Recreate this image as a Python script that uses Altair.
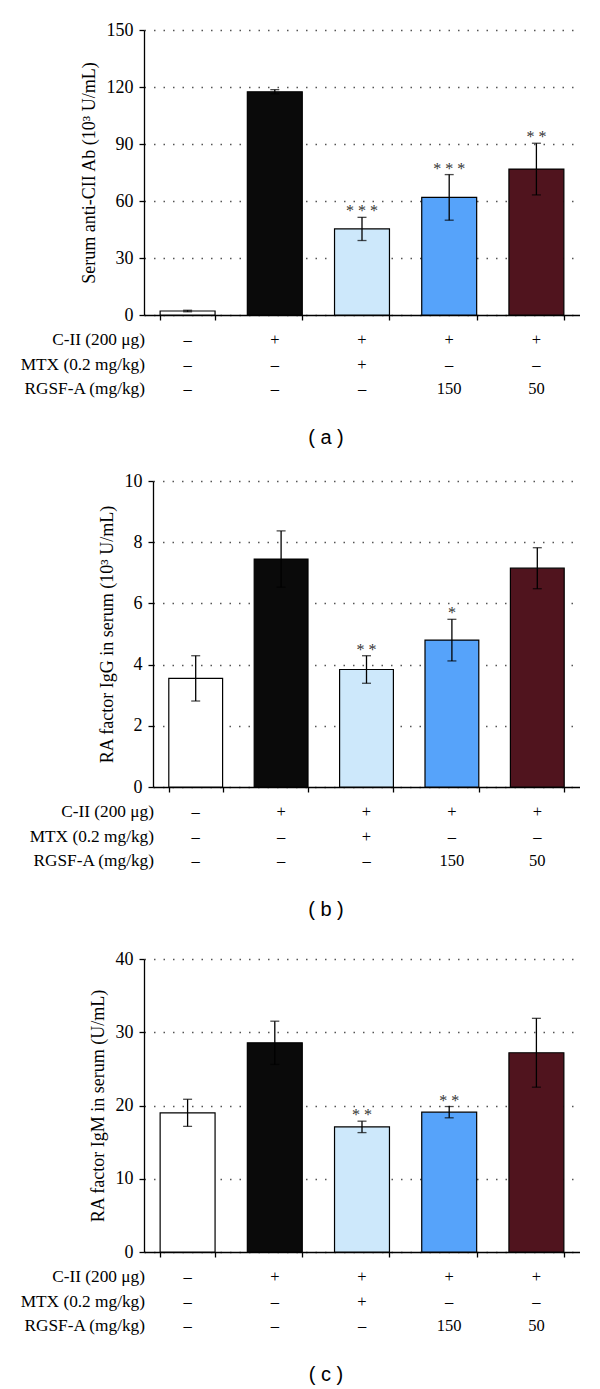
import altair as alt
import pandas as pd

# Groups (x categories, sorted ascending = display order)
GROUPS = ["G1", "G2", "G3", "G4", "G5"]
COLORS = ["#ffffff", "#0a0a0a", "#cde8fb", "#56a3fa", "#50141e"]

# Treatment table under each panel
ROW_LABELS = ["C-II (200 μg)", "MTX (0.2 mg/kg)", "RGSF-A (mg/kg)"]
CII = ["–", "+", "+", "+", "+"]
MTX = ["–", "–", "+", "–", "–"]
RGSF = ["–", "–", "–", "150", "50"]

# Panel (a): Serum anti-CII Ab
A_MEAN = [2.1, 117.5, 45.3, 61.9, 76.8]
A_ERR = [0.4, 1.1, 6.1, 12.0, 13.6]
A_STARS = ["", "", "* * *", "* * *", "* *"]

# Panel (b): RA factor IgG
B_MEAN = [3.55, 7.45, 3.84, 4.80, 7.15]
B_ERR = [0.74, 0.92, 0.45, 0.68, 0.67]
B_STARS = ["", "", "* *", "*", ""]

# Panel (c): RA factor IgM
C_MEAN = [19.0, 28.56, 17.08, 19.09, 27.2]
C_ERR = [1.85, 2.95, 0.78, 0.77, 4.7]
C_STARS = ["", "", "* *", "* *", ""]

SERIF = "Liberation Serif"
W = 436


def panel(mean, err, stars, ymax, ystep, title, caption, h, top, bottom, xoff=0):
    df = pd.DataFrame({
        "g": GROUPS,
        "v": mean,
        "lo": [m - e for m, e in zip(mean, err)],
        "hi": [m + e for m, e in zip(mean, err)],
        "s": stars,
        "c": COLORS,
    })
    sc = dict(paddingInner=0.37, paddingOuter=0.185)
    if xoff:
        sc["range"] = [xoff, W]
    x = alt.X(
        "g:N",
        scale=alt.Scale(**sc),
        axis=alt.Axis(labels=False, title=None, tickBand="extent", grid=False,
                      domainColor="black", tickColor="black", tickSize=5,
                      domainWidth=1.3, tickWidth=1.3),
    )
    yscale = alt.Scale(domain=[0, ymax], nice=False)
    ax = dict(values=list(range(0, ymax + 1, ystep)), title=title, grid=True,
              gridDash=[1.5, 8], gridColor="#555555", gridWidth=1.5,
              domainColor="black", tickColor="black", tickSize=5,
              domainWidth=1.3, tickWidth=1.3, labelPadding=6, titlePadding=8)
    if xoff:
        ax["offset"] = -xoff
    yaxis = alt.Axis(**ax)

    def Y(f):
        return alt.Y(f, scale=yscale, axis=yaxis)

    base = alt.Chart(df)
    bars = base.mark_bar(stroke="black", strokeWidth=1.2).encode(
        x=x, y=Y("v:Q"), color=alt.Color("c:N", scale=None))
    rule = base.mark_rule(color="black", strokeWidth=1.3).encode(
        x=x, y=Y("lo:Q"), y2="hi:Q")
    cap_hi = base.mark_tick(color="black", size=9, thickness=1.3).encode(x=x, y=Y("hi:Q"))
    cap_lo = base.mark_tick(color="black", size=9, thickness=1.3).encode(x=x, y=Y("lo:Q"))
    star = base.mark_text(font=SERIF, fontSize=16, baseline="alphabetic", dy=-1,
                          color="#333333").encode(x=x, y=Y("hi:Q"), text="s:N")

    layers = [bars, rule, cap_hi, cap_lo, star]
    for r, (lab, vals) in enumerate(zip(ROW_LABELS, [CII, MTX, RGSF])):
        yy = h + 25 + 24.5 * r
        tdf = pd.DataFrame({"g": GROUPS, "t": vals})
        layers.append(
            alt.Chart(tdf).mark_text(font=SERIF, fontSize=16.5, baseline="middle",
                                     color="black")
            .encode(x=x, y=alt.value(yy), text="t:N"))
        ldf = pd.DataFrame({"t": [lab]})
        layers.append(
            alt.Chart(ldf).mark_text(font=SERIF, fontSize=17.3, baseline="middle",
                                     align="right", color="black")
            .encode(x=alt.value(1 + xoff), y=alt.value(yy), text="t:N"))

    cdf = pd.DataFrame({"t": [caption]})
    layers.append(
        alt.Chart(cdf).mark_text(font="Liberation Sans", fontSize=20, baseline="middle",
                                 align="center", color="black")
        .encode(x=alt.value(182), y=alt.value(h + 123), text="t:N"))

    bdf = pd.DataFrame({"z": [0]})
    layers.append(
        alt.Chart(bdf).mark_rule(color="white", strokeWidth=1)
        .encode(x=alt.value(-135.3), y=alt.value(-top), y2=alt.value(h + bottom)))

    return alt.layer(*layers).properties(width=W, height=h)


pa = panel(A_MEAN, A_ERR, A_STARS, 150, 30, "Serum anti-CII Ab (10³ U/mL)", "( a )", 285, 21.4, 140.7)
pb = panel(B_MEAN, B_ERR, B_STARS, 10, 2, "RA factor IgG in serum (10³ U/mL)", "( b )", 306, 22.7, 146.6, xoff=9)
pc = panel(C_MEAN, C_ERR, C_STARS, 40, 10, "RA factor IgM in serum (U/mL)", "( c )", 293, 22.7, 125)

chart = (
    alt.vconcat(pa, pb, pc, spacing=0)
    .properties(padding=0)
    .configure_view(stroke=None)
    .configure_axis(labelFont=SERIF, titleFont=SERIF, labelFontSize=18, titleFontSize=18,
                    labelColor="black", titleColor="black", titleFontWeight="normal")
)

chart.save("out.html", embed_options={"renderer": "svg", "actions": False})
